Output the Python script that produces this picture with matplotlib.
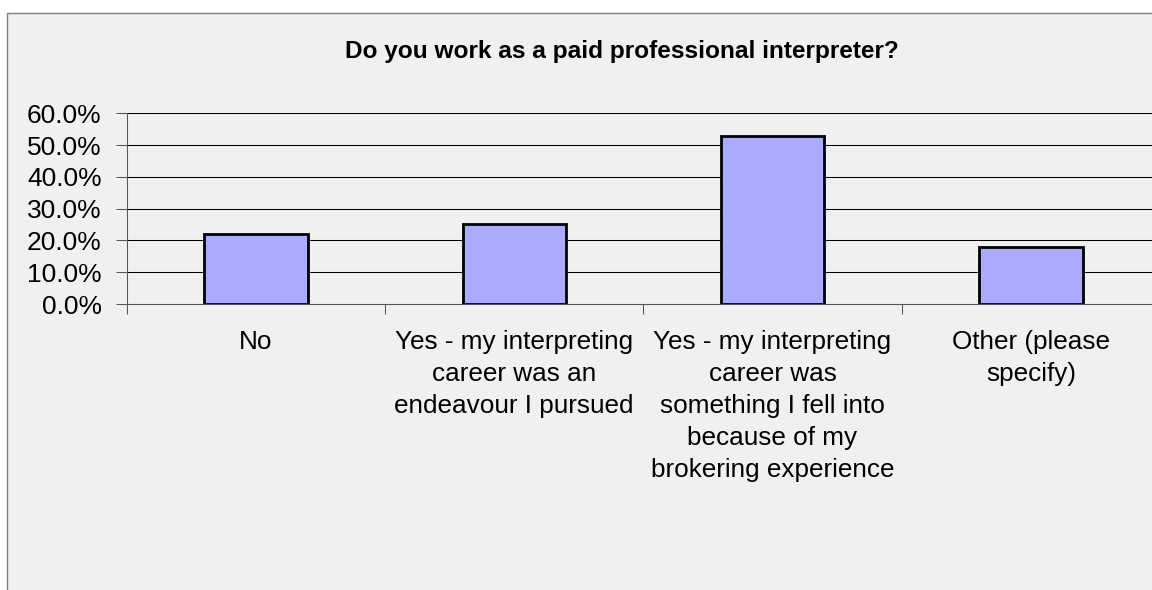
import matplotlib
matplotlib.use("Agg")
import matplotlib.pyplot as plt
from matplotlib.patches import Rectangle
from matplotlib.ticker import FixedLocator, FuncFormatter

plt.rcParams['font.family'] = ['Liberation Sans', 'DejaVu Sans']

# Survey responses (share of respondents)
categories = [
    "No",
    "Yes - my interpreting\ncareer was an\nendeavour I pursued",
    "Yes - my interpreting\ncareer was\nsomething I fell into\nbecause of my\nbrokering experience",
    "Other (please\nspecify)",
]
shares = [0.220, 0.252, 0.529, 0.178]
y_ticks = [0.0, 0.1, 0.2, 0.3, 0.4, 0.5, 0.6]
title = "Do you work as a paid professional interpreter?"

W, H = 1152, 590
fig = plt.figure(figsize=(W / 100, H / 100), dpi=100, facecolor="white")

# Chart area panel with a thin grey frame
panel = Rectangle((7 / W, -0.05), 1.1, 1 - 13 / H + 0.05,
                  transform=fig.transFigure, facecolor="#F0F0F0",
                  edgecolor="#7F7F7F", linewidth=1.0, zorder=-10)
fig.patches.append(panel)

left, right = 126.7, 1160.0
top, bottom = 113.3, 304.0
ax = fig.add_axes([left / W, 1 - bottom / H, (right - left) / W, (bottom - top) / H])
ax.set_facecolor("none")
ax.set_zorder(5)

n = len(categories)
centers = [i + 0.5 for i in range(n)]
ax.bar(centers, shares, width=0.4, color="#AAAAFF", edgecolor="black",
       linewidth=2.0, zorder=3)

ax.set_xlim(0, n)
ax.set_ylim(0, 0.6)

ax.yaxis.set_major_locator(FixedLocator(y_ticks))
ax.yaxis.set_major_formatter(FuncFormatter(lambda v, p: f"{v * 100:.1f}%"))
ax.grid(axis="y", color="black", linewidth=0.75, zorder=1)

ax.xaxis.set_major_locator(FixedLocator(list(range(n + 1))))
ax.xaxis.set_major_formatter(FuncFormatter(lambda v, p: ""))
ax.xaxis.set_minor_locator(FixedLocator(centers))
ax.set_xticklabels(categories, minor=True)

ax.tick_params(axis="x", which="major", direction="out", length=7,
               width=0.75, color="#555555")
ax.tick_params(axis="x", which="minor", length=0, pad=19, labelsize=18.8)
ax.tick_params(axis="y", direction="out", length=8, width=0.75,
               color="#555555", pad=10, labelsize=19)
for lbl in ax.get_xticklabels(minor=True):
    lbl.set_linespacing(1.41)
    lbl.set_ha("center")

for side in ("top", "right"):
    ax.spines[side].set_visible(False)
for side in ("left", "bottom"):
    ax.spines[side].set_color("#555555")
    ax.spines[side].set_linewidth(0.75)
    ax.spines[side].set_zorder(4)

fig.text(622 / W, 1 - 51.5 / H, title, ha="center", va="center",
         fontsize=17.6, fontweight="bold")

fig.savefig("out.png", dpi=100, facecolor="white")
